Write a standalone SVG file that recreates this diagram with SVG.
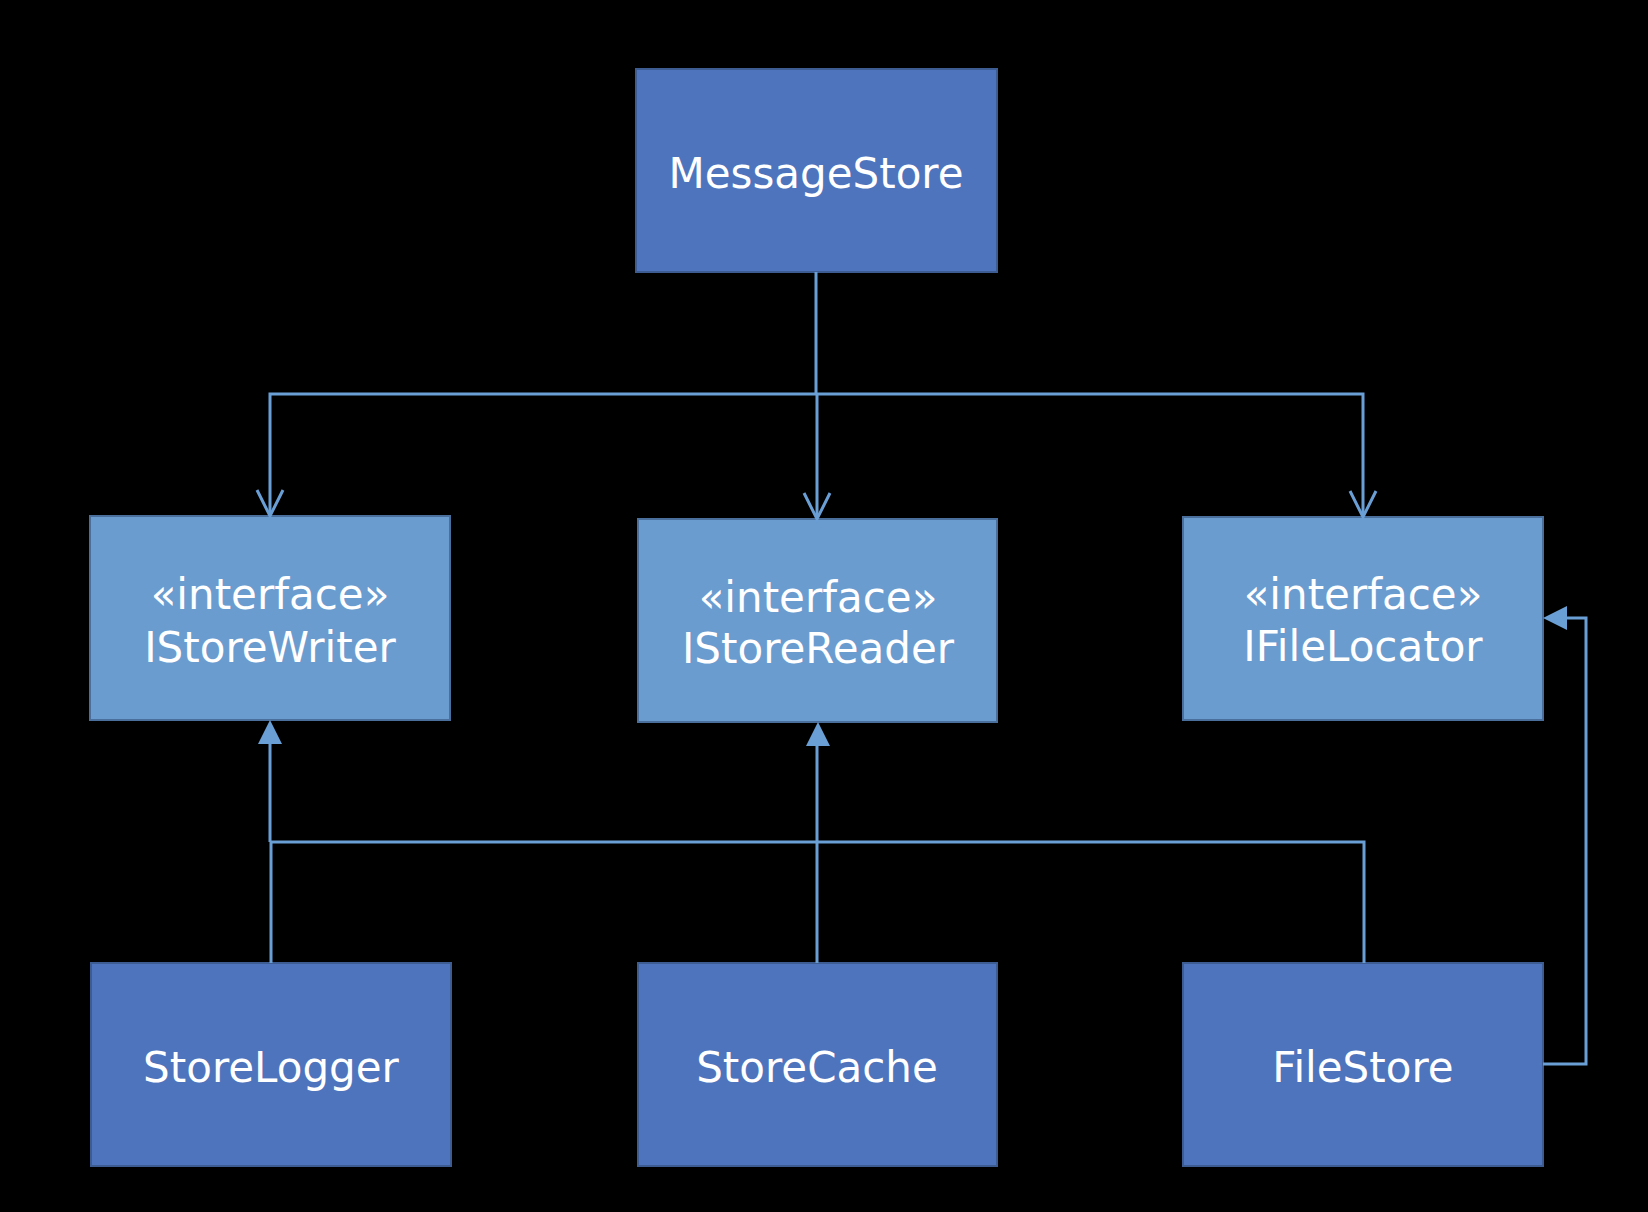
<svg xmlns="http://www.w3.org/2000/svg" width="1648" height="1212" viewBox="0 0 1648 1212">
<style>
.bg{fill:#000}
.cls{fill:#4e74bd;stroke:#3c5c92;stroke-width:2}
.ifc{fill:#6a9cd0;stroke:#4a6f9c;stroke-width:2}
.t{font-family:"DejaVu Sans","Verdana",sans-serif;font-size:42px;fill:#fff;text-anchor:middle}
.ln{fill:none;stroke:#6a9fd6;stroke-width:3}
.open{fill:none;stroke:#6a9fd6;stroke-width:3}
.tri{fill:#6a9fd6}
</style>
<rect class="bg" x="0" y="0" width="1648" height="1212"/>
<g id="MessageStore">
<rect class="cls" x="636" y="69" width="361" height="203"/>
<text class="t" x="816" y="188">MessageStore</text>
</g>
<g id="IStoreWriter">
<rect class="ifc" x="90" y="516" width="360" height="204"/>
<text class="t" x="270" y="609">«interface»</text>
<text class="t" x="270" y="662">IStoreWriter</text>
</g>
<g id="IStoreReader">
<rect class="ifc" x="638" y="519" width="359" height="203"/>
<text class="t" x="818" y="612">«interface»</text>
<text class="t" x="818" y="663">IStoreReader</text>
</g>
<g id="IFileLocator">
<rect class="ifc" x="1183" y="517" width="360" height="203"/>
<text class="t" x="1363" y="609">«interface»</text>
<text class="t" x="1363" y="661">IFileLocator</text>
</g>
<g id="StoreLogger">
<rect class="cls" x="91" y="963" width="360" height="203"/>
<text class="t" x="271" y="1082">StoreLogger</text>
</g>
<g id="StoreCache">
<rect class="cls" x="638" y="963" width="359" height="203"/>
<text class="t" x="817" y="1082">StoreCache</text>
</g>
<g id="FileStore">
<rect class="cls" x="1183" y="963" width="360" height="203"/>
<text class="t" x="1363" y="1082">FileStore</text>
</g>
<g id="connectors">
<path class="ln" d="M816,272 V394 M270,516 V394 H1363 V516 M817,394 V519"/>
<path class="open" d="M257,490 L270,516 L283,490"/>
<path class="open" d="M804,493 L817,519 L830,493"/>
<path class="open" d="M1350,491 L1363,517 L1376,491"/>
<path class="ln" d="M271,963 V842 M270,842 V744 M817,963 V746 M270,842 H1364 V963"/>
<path class="tri" d="M270,720 L282,744 L258,744 Z"/>
<path class="tri" d="M818,722 L830,746 L806,746 Z"/>
<path class="ln" d="M1543,1064 H1586 V618 H1566"/>
<path class="tri" d="M1543,618 L1567,606 L1567,630 Z"/>
</g>
</svg>
